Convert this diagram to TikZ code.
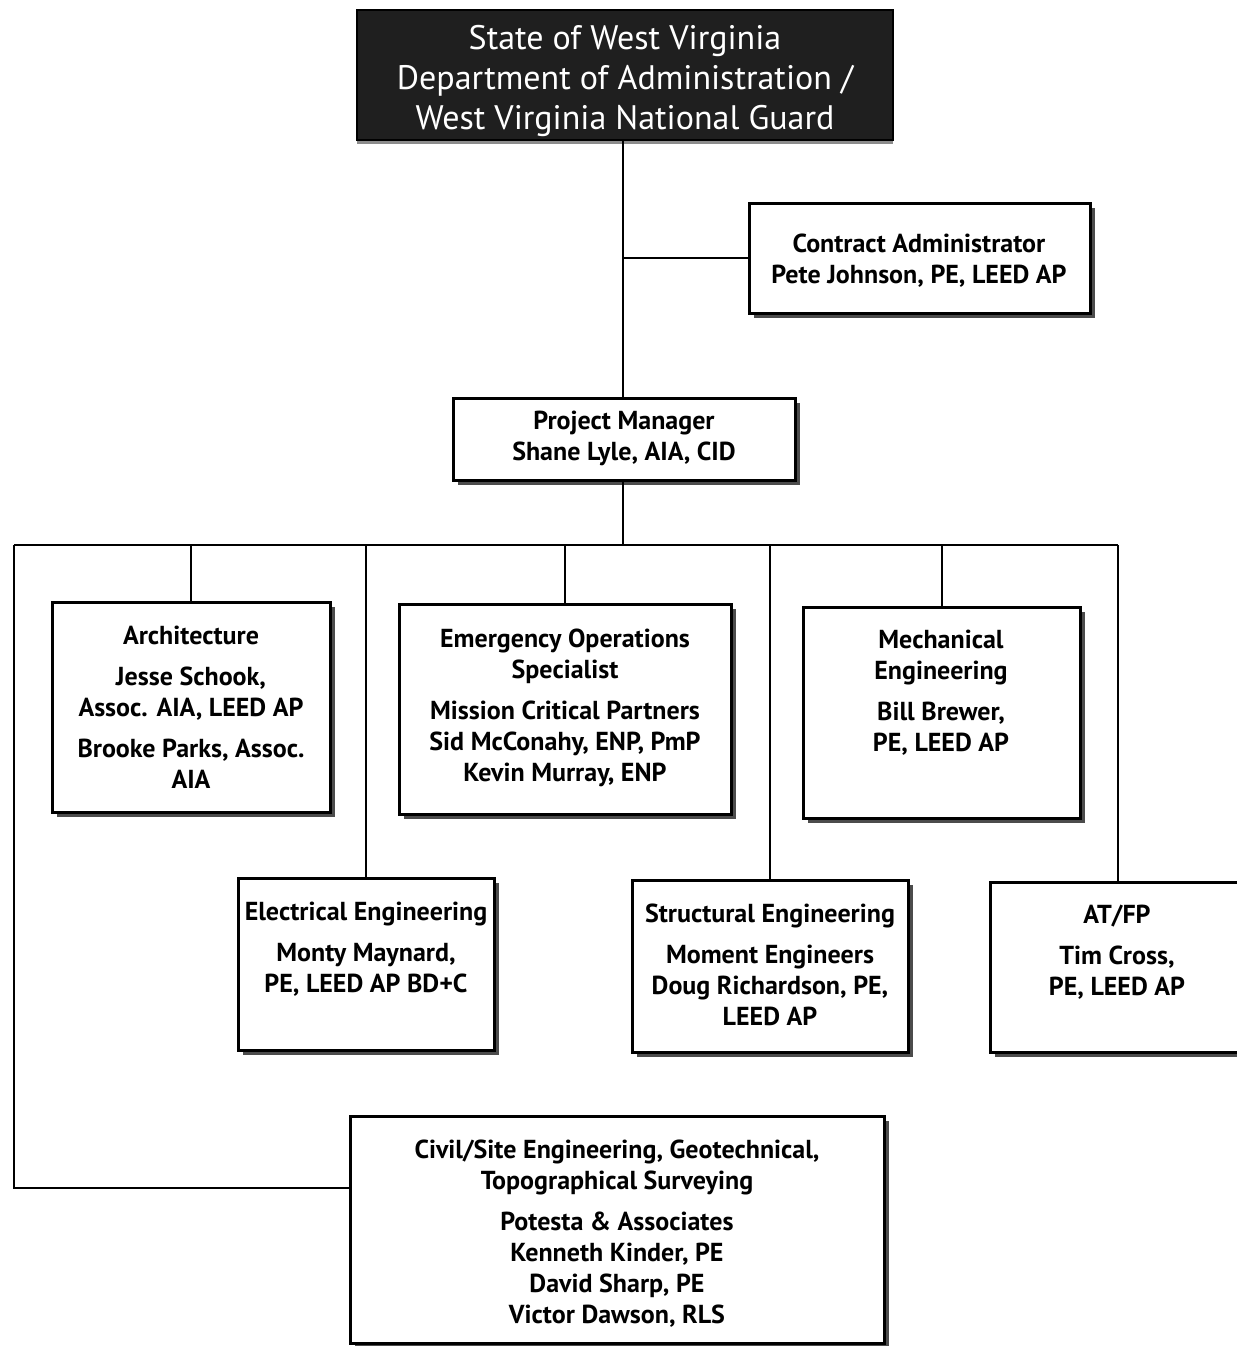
\documentclass[tikz,border=0pt]{standalone}
\usepackage{fontspec}
\setmainfont{PT Sans}
\usetikzlibrary{fit,shadows}
\begin{document}
\begin{tikzpicture}[x=0.5pt,y=-0.5pt,
  box/.style={draw=black,line width=1.5pt,fill=white,inner sep=0pt,
    drop shadow={shadow xshift=2.5pt,shadow yshift=-2.5pt,fill=black!70,opacity=1}},
  topbox/.style={draw=black,line width=1pt,fill=black!88,inner sep=0pt,
    drop shadow={shadow xshift=0pt,shadow yshift=-2pt,fill=black!45,opacity=1}},
  txt/.style={anchor=north,align=center,inner sep=0pt,
    font={\bfseries\fontsize{13}{15.5}\selectfont}},
  toptxt/.style={anchor=north,align=center,inner sep=0pt,text=white,
    font={\fontsize{17}{20}\selectfont}},
  link/.style={line width=1pt}]
\useasboundingbox (0,0) rectangle (1237,1346);
\fill[white] (0,0) rectangle (1237,1346);

% boxes
\node[topbox,fit={(357,10) (893,140)}] (top) {};
\node[box,fit={(749,203) (1090,313)}] (ca) {};
\node[box,fit={(453,398) (795,480)}] (pm) {};
\node[box,fit={(52,602) (330,812)}] (arch) {};
\node[box,fit={(399,604) (731,814)}] (emer) {};
\node[box,fit={(803,607) (1080,818)}] (mech) {};
\node[box,fit={(238,878) (494,1050)}] (elec) {};
\node[box,fit={(632,880) (908,1052)}] (struc) {};
\node[box,fit={(990,882) (1246,1052)}] (atfp) {};
\node[box,fit={(350,1116) (884,1343)}] (civil) {};

% texts
\node[toptxt] (topT) at (625,25) {State of West Virginia\\Department of Administration /\\West Virginia National Guard};
\node[txt] (caT) at (919,234) {Contract Administrator\\Pete Johnson, PE, LEED AP};
\node[txt] (pmT) at (624,411) {Project Manager\\Shane Lyle, AIA, CID};
\node[txt] (archT) at (191,626) {Architecture\\[5pt]Jesse Schook,\\Assoc. AIA, LEED AP\\[5pt]Brooke Parks, Assoc.\\AIA};
\node[txt] (emerT) at (565,629) {Emergency Operations\\Specialist\\[5pt]Mission Critical Partners\\Sid McConahy, ENP, PmP\\Kevin Murray, ENP};
\node[txt] (mechT) at (941,630) {Mechanical\\Engineering\\[5pt]Bill Brewer,\\PE, LEED AP};
\node[txt] (elecT) at (366,902) {Electrical Engineering\\[5pt]Monty Maynard,\\PE, LEED AP BD+C};
\node[txt] (strucT) at (770,904) {Structural Engineering\\[5pt]Moment Engineers\\Doug Richardson, PE,\\LEED AP};
\node[txt] (atfpT) at (1117,905) {AT/FP\\[5pt]Tim Cross,\\PE, LEED AP};
\node[txt] (civilT) at (617,1140) {Civil/Site Engineering, Geotechnical,\\Topographical Surveying\\[5pt]Potesta \& Associates\\Kenneth Kinder, PE\\David Sharp, PE\\Victor Dawson, RLS};

% connectors
\coordinate (busL) at (14,545);
\coordinate (busR) at (1118,545);
\coordinate (civJ) at (14,1188);
\draw[link] (top.south -| 623,0) -- (623,0 |- pm.north);
\draw[link] (623,0 |- ca.west) -- (ca.west);
\draw[link] (pm.south -| 623,0) -- (623,0 |- busL);
\draw[link] (busL) -- (busR);
\draw[link] (arch.north) -- (arch.north |- busL);
\draw[link] (emer.north) -- (emer.north |- busL);
\draw[link] (mech.north) -- (mech.north |- busL);
\draw[link] (elec.north) -- (elec.north |- busL);
\draw[link] (struc.north) -- (struc.north |- busL);
\draw[link] (atfp.north) -- (busR);
\draw[link] (busL) -- (civJ) -- (civJ -| civil.west);
\end{tikzpicture}
\end{document}
